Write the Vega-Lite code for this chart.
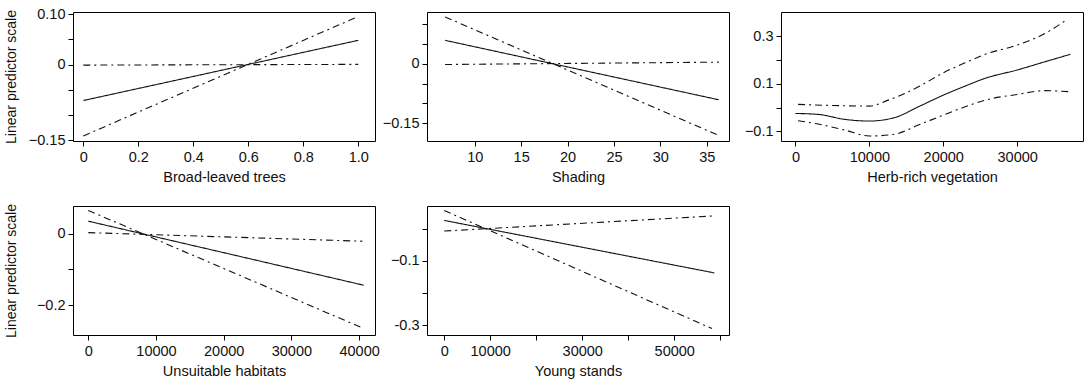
{
  "$schema": "https://vega.github.io/schema/vega-lite/v6.json",
  "padding": {"left": 3, "top": 5, "right": 2, "bottom": 2},
  "background": "white",
  "config": {
    "view": {"stroke": "#000", "strokeWidth": 1},
    "axis": {
      "grid": false, "domain": false, "tickColor": "#000", "tickSize": 5, "tickWidth": 1,
      "labelFont": "Liberation Sans", "labelFontSize": 14.5, "labelColor": "#111",
      "titleFont": "Liberation Sans", "titleFontSize": 14.5, "titleFontWeight": "normal", "titleColor": "#111",
      "labelOverlap": false, "labelFlush": false, "labelBound": false
    },
    "axisX": {"labelPadding": 4, "titlePadding": 7},
    "axisY": {"labelPadding": 3, "titleFontSize": 14}
  },
  "datasets": {
    "p1": [
      {"x": 0, "y": -0.071, "curve": "estimate"}, {"x": 1.0, "y": 0.048, "curve": "estimate"},
      {"x": 0, "y": -0.141, "curve": "bound1"}, {"x": 1.0, "y": 0.095, "curve": "bound1"},
      {"x": 0, "y": -0.001, "curve": "bound2"}, {"x": 1.0, "y": 0.0005, "curve": "bound2"}
    ],
    "p2": [
      {"x": 6.8, "y": 0.059, "curve": "estimate"}, {"x": 36.3, "y": -0.091, "curve": "estimate"},
      {"x": 6.8, "y": 0.118, "curve": "bound1"}, {"x": 36.3, "y": -0.181, "curve": "bound1"},
      {"x": 6.8, "y": -0.002, "curve": "bound2"}, {"x": 36.3, "y": 0.004, "curve": "bound2"}
    ],
    "p3": [
      {"x": 0, "y": -0.024, "curve": "estimate"}, {"x": 3070, "y": -0.028, "curve": "estimate"},
      {"x": 6690, "y": -0.049, "curve": "estimate"}, {"x": 10000, "y": -0.056, "curve": "estimate"},
      {"x": 13470, "y": -0.041, "curve": "estimate"}, {"x": 16630, "y": 0.004, "curve": "estimate"},
      {"x": 20000, "y": 0.053, "curve": "estimate"}, {"x": 22950, "y": 0.091, "curve": "estimate"},
      {"x": 25670, "y": 0.124, "curve": "estimate"}, {"x": 30000, "y": 0.159, "curve": "estimate"},
      {"x": 33800, "y": 0.194, "curve": "estimate"}, {"x": 37190, "y": 0.225, "curve": "estimate"},
      {"x": 360, "y": 0.014, "curve": "bound1"}, {"x": 4430, "y": 0.010, "curve": "bound1"},
      {"x": 10000, "y": 0.007, "curve": "bound1"}, {"x": 12560, "y": 0.032, "curve": "bound1"},
      {"x": 16630, "y": 0.088, "curve": "bound1"}, {"x": 20000, "y": 0.147, "curve": "bound1"},
      {"x": 22950, "y": 0.189, "curve": "bound1"}, {"x": 25670, "y": 0.225, "curve": "bound1"},
      {"x": 30000, "y": 0.264, "curve": "bound1"}, {"x": 33800, "y": 0.313, "curve": "bound1"},
      {"x": 36740, "y": 0.372, "curve": "bound1"},
      {"x": 360, "y": -0.055, "curve": "bound2"}, {"x": 2620, "y": -0.066, "curve": "bound2"},
      {"x": 6690, "y": -0.094, "curve": "bound2"}, {"x": 10000, "y": -0.119, "curve": "bound2"},
      {"x": 13470, "y": -0.111, "curve": "bound2"}, {"x": 16630, "y": -0.073, "curve": "bound2"},
      {"x": 20000, "y": -0.031, "curve": "bound2"}, {"x": 22950, "y": 0.004, "curve": "bound2"},
      {"x": 25670, "y": 0.032, "curve": "bound2"}, {"x": 30000, "y": 0.056, "curve": "bound2"},
      {"x": 33800, "y": 0.072, "curve": "bound2"}, {"x": 37190, "y": 0.067, "curve": "bound2"}
    ],
    "p4": [
      {"x": 0, "y": 0.035, "curve": "estimate"}, {"x": 40700, "y": -0.144, "curve": "estimate"},
      {"x": 0, "y": 0.065, "curve": "bound1"}, {"x": 40700, "y": -0.265, "curve": "bound1"},
      {"x": 0, "y": 0.003, "curve": "bound2"}, {"x": 40500, "y": -0.021, "curve": "bound2"}
    ],
    "p5": [
      {"x": 0, "y": 0.026, "curve": "estimate"}, {"x": 58700, "y": -0.137, "curve": "estimate"},
      {"x": 0, "y": 0.057, "curve": "bound1"}, {"x": 58200, "y": -0.310, "curve": "bound1"},
      {"x": 0, "y": -0.007, "curve": "bound2"}, {"x": 58700, "y": 0.040, "curve": "bound2"}
    ]
  },
  "columns": 3,
  "bounds": "flush",
  "spacing": {"row": 65, "column": 52},
  "concat": [
    {
      "data": {"name": "p1"}, "width": 302, "height": 129,
      "mark": {"type": "line", "strokeWidth": 1.1, "color": "#111"},
      "encoding": {
        "x": {"field": "x", "type": "quantitative",
          "scale": {"domain": [-0.0375, 1.061], "nice": false, "zero": false},
          "axis": {"values": [0, 0.2, 0.4, 0.6, 0.8, 1.0], "labelExpr": "datum.value == 0 ? '0' : format(datum.value, '.1f')", "title": "Broad-leaved trees"}},
        "y": {"field": "y", "type": "quantitative",
          "scale": {"domain": [-0.151, 0.104], "nice": false, "zero": false},
          "axis": {"values": [-0.15, -0.1, -0.05, 0, 0.05, 0.1], "labelExpr": "abs(datum.value - 0.1) < 1e-9 ? '0.10' : abs(datum.value) < 1e-9 ? '0' : abs(datum.value + 0.15) < 1e-9 ? '−0.15' : ''", "title": "Linear predictor scale", "titleX": -62, "titleBaseline": "middle"}},
        "strokeDash": {"field": "curve", "type": "nominal", "scale": {"domain": ["estimate", "bound1", "bound2"], "range": [[1, 0], [7, 4, 2, 4], [7, 4, 2, 4]]}, "legend": null}
      }
    },
    {
      "data": {"name": "p2"}, "width": 302, "height": 129,
      "mark": {"type": "line", "strokeWidth": 1.1, "color": "#111"},
      "encoding": {
        "x": {"field": "x", "type": "quantitative",
          "scale": {"domain": [4.85, 37.4], "nice": false, "zero": false},
          "axis": {"values": [10, 15, 20, 25, 30, 35], "format": "d", "title": "Shading"}},
        "y": {"field": "y", "type": "quantitative",
          "scale": {"domain": [-0.195, 0.1305], "nice": false, "zero": false},
          "axis": {"values": [-0.15, -0.1, -0.05, 0, 0.05, 0.1], "labelExpr": "abs(datum.value) < 1e-9 ? '0' : abs(datum.value + 0.15) < 1e-9 ? '−0.15' : ''", "title": null}},
        "strokeDash": {"field": "curve", "type": "nominal", "scale": {"domain": ["estimate", "bound1", "bound2"], "range": [[1, 0], [7, 4, 2, 4], [7, 4, 2, 4]]}, "legend": null}
      }
    },
    {
      "data": {"name": "p3"}, "width": 302, "height": 129,
      "mark": {"type": "line", "strokeWidth": 1.1, "color": "#111", "interpolate": "monotone"},
      "encoding": {
        "x": {"field": "x", "type": "quantitative",
          "scale": {"domain": [-1950, 38900], "nice": false, "zero": false},
          "axis": {"values": [0, 10000, 20000, 30000], "format": "d", "title": "Herb-rich vegetation"}},
        "y": {"field": "y", "type": "quantitative",
          "scale": {"domain": [-0.14, 0.403], "nice": false, "zero": false},
          "axis": {"values": [-0.1, 0, 0.1, 0.2, 0.3], "labelExpr": "abs(datum.value - 0.3) < 1e-9 ? '0.3' : abs(datum.value - 0.1) < 1e-9 ? '0.1' : abs(datum.value + 0.1) < 1e-9 ? '−0.1' : ''", "title": null}},
        "strokeDash": {"field": "curve", "type": "nominal", "scale": {"domain": ["estimate", "bound1", "bound2"], "range": [[1, 0], [7, 4, 2, 4], [7, 4, 2, 4]]}, "legend": null}
      }
    },
    {
      "data": {"name": "p4"}, "width": 302, "height": 129,
      "mark": {"type": "line", "strokeWidth": 1.1, "color": "#111"},
      "encoding": {
        "x": {"field": "x", "type": "quantitative",
          "scale": {"domain": [-2260, 42350], "nice": false, "zero": false},
          "axis": {"values": [0, 10000, 20000, 30000, 40000], "format": "d", "title": "Unsuitable habitats"}},
        "y": {"field": "y", "type": "quantitative",
          "scale": {"domain": [-0.283, 0.0774], "nice": false, "zero": false},
          "axis": {"values": [-0.2, -0.1, 0], "labelExpr": "abs(datum.value) < 1e-9 ? '0' : abs(datum.value + 0.2) < 1e-9 ? '−0.2' : ''", "title": "Linear predictor scale", "titleX": -62, "titleBaseline": "middle"}},
        "strokeDash": {"field": "curve", "type": "nominal", "scale": {"domain": ["estimate", "bound1", "bound2"], "range": [[1, 0], [7, 4, 2, 4], [7, 4, 2, 4]]}, "legend": null}
      }
    },
    {
      "data": {"name": "p5"}, "width": 302, "height": 129,
      "mark": {"type": "line", "strokeWidth": 1.1, "color": "#111"},
      "encoding": {
        "x": {"field": "x", "type": "quantitative",
          "scale": {"domain": [-3740, 61900], "nice": false, "zero": false},
          "axis": {"values": [0, 10000, 20000, 30000, 40000, 50000, 60000], "labelExpr": "indexof([0, 10000, 30000, 50000], datum.value) >= 0 ? format(datum.value, 'd') : ''", "title": "Young stands"}},
        "y": {"field": "y", "type": "quantitative",
          "scale": {"domain": [-0.330, 0.0708], "nice": false, "zero": false},
          "axis": {"values": [-0.3, -0.2, -0.1, 0], "labelExpr": "abs(datum.value + 0.1) < 1e-9 ? '−0.1' : abs(datum.value + 0.3) < 1e-9 ? '-0.3' : ''", "title": null}},
        "strokeDash": {"field": "curve", "type": "nominal", "scale": {"domain": ["estimate", "bound1", "bound2"], "range": [[1, 0], [7, 4, 2, 4], [7, 4, 2, 4]]}, "legend": null}
      }
    }
  ]
}
